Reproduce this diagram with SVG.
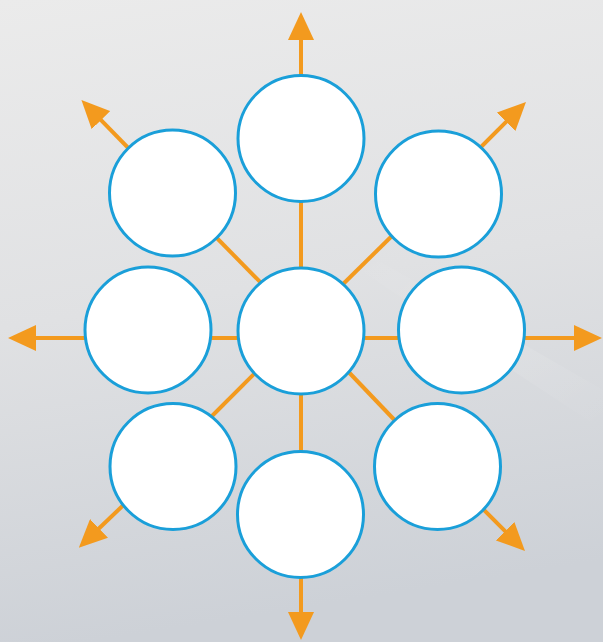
<svg xmlns="http://www.w3.org/2000/svg" width="603" height="642" viewBox="0 0 603 642">
<defs>
<linearGradient id="bg" x1="0" y1="0" x2="0.15" y2="1">
<stop offset="0" stop-color="#ebebeb"/>
<stop offset="0.5" stop-color="#e0e1e3"/>
<stop offset="1" stop-color="#cdd1d7"/>
</linearGradient>
<linearGradient id="streak" x1="0" y1="0" x2="1" y2="1">
<stop offset="0" stop-color="#ffffff" stop-opacity="0"/>
<stop offset="0.5" stop-color="#ffffff" stop-opacity="0.35"/>
<stop offset="1" stop-color="#ffffff" stop-opacity="0"/>
</linearGradient>
<marker id="ah" markerUnits="userSpaceOnUse" markerWidth="28" markerHeight="26" refX="2" refY="13" orient="auto">
<path d="M0,0 L28,13 L0,26 z" fill="#f39a1e"/>
</marker>
<style>
.c{fill:#ffffff;stroke:#1a9fd9;stroke-width:3}
.l{stroke:#f39a1e;stroke-width:4;fill:none}
.a{stroke:#f39a1e;stroke-width:4;fill:none;marker-end:url(#ah)}
</style>
</defs>
<rect width="603" height="642" fill="url(#bg)"/>
<polygon points="360,250 603,390 603,430 360,270" fill="url(#streak)" opacity="0.35"/>
<g id="connectors">
<line class="l" x1="148" y1="338" x2="461" y2="338"/>
<line class="l" x1="301" y1="138" x2="301" y2="515"/>
<line class="l" x1="205" y1="226" x2="270" y2="292"/>
<line class="l" x1="400" y1="228" x2="334" y2="293"/>
<line class="l" x1="203" y1="425" x2="264" y2="364"/>
<line class="l" x1="340" y1="363" x2="405" y2="431"/>
<line class="a" x1="301" y1="90" x2="301" y2="38"/>
<line class="a" x1="301" y1="560" x2="301" y2="614"/>
<line class="a" x1="100" y1="338" x2="34" y2="338"/>
<line class="a" x1="510" y1="338" x2="576" y2="338"/>
<line class="a" x1="140" y1="160" x2="99.6" y2="118.7"/>
<line class="a" x1="470" y1="158" x2="507.6" y2="120.4"/>
<line class="a" x1="135" y1="494" x2="97.6" y2="529.8"/>
<line class="a" x1="475" y1="501" x2="506.6" y2="532.6"/>
</g>
<g id="node-center"><circle class="c" cx="301" cy="331" r="63"/></g>
<g id="node-top"><circle class="c" cx="301" cy="138.5" r="63"/></g>
<g id="node-bottom"><circle class="c" cx="300.5" cy="514.5" r="63"/></g>
<g id="node-left"><circle class="c" cx="148" cy="330" r="63"/></g>
<g id="node-right"><circle class="c" cx="461.5" cy="330" r="63"/></g>
<g id="node-top-left"><circle class="c" cx="172.5" cy="193" r="63"/></g>
<g id="node-top-right"><circle class="c" cx="438.5" cy="194" r="63"/></g>
<g id="node-bottom-left"><circle class="c" cx="173" cy="466.5" r="63"/></g>
<g id="node-bottom-right"><circle class="c" cx="437.5" cy="466.5" r="63"/></g>
</svg>
